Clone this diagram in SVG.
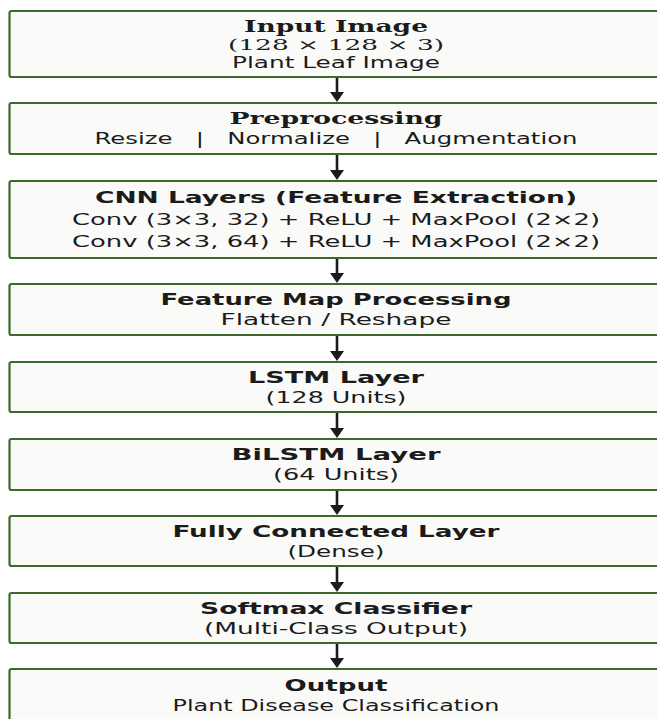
<svg xmlns="http://www.w3.org/2000/svg" width="657" height="719" viewBox="0 0 657 719">
<style>
.box{fill:#fafbf9;stroke:#3b6a2c;stroke-width:2.2}
.t{font-family:"DejaVu Sans","Liberation Sans",sans-serif;font-weight:bold;font-size:16px;fill:#1b1b1b;text-anchor:middle}
.ts{font-family:"DejaVu Serif","Liberation Serif",serif;font-weight:bold;font-size:16px;fill:#1b1b1b;text-anchor:middle}
.b{font-family:"DejaVu Sans","Liberation Sans",sans-serif;font-size:15px;fill:#1b1b1b;text-anchor:middle}
.bs{font-family:"DejaVu Serif","Liberation Serif",serif;font-size:15px;fill:#1b1b1b;text-anchor:middle}
.c{stroke:#1b1b1b;stroke-width:2.6;fill:none}
</style>
<defs>
<marker id="ah" viewBox="0 0 10 14" refX="1" refY="7" markerWidth="10" markerHeight="14" markerUnits="userSpaceOnUse" orient="auto">
<path d="M0,0 L10,7 L0,14 z" fill="#1b1b1b"/>
</marker>
</defs>
<rect width="657" height="719" fill="#ffffff"/>
<g id="connectors">
<line class="c" x1="337" y1="77" x2="337" y2="93" marker-end="url(#ah)"/>
<line class="c" x1="337" y1="154" x2="337" y2="171" marker-end="url(#ah)"/>
<line class="c" x1="337" y1="258" x2="337" y2="274" marker-end="url(#ah)"/>
<line class="c" x1="337" y1="335" x2="337" y2="352" marker-end="url(#ah)"/>
<line class="c" x1="337" y1="412" x2="337" y2="429" marker-end="url(#ah)"/>
<line class="c" x1="337" y1="490" x2="337" y2="506" marker-end="url(#ah)"/>
<line class="c" x1="337" y1="566" x2="337" y2="583" marker-end="url(#ah)"/>
<line class="c" x1="337" y1="643" x2="337" y2="659" marker-end="url(#ah)"/>
</g>
<g id="input">
<rect class="box" x="9.5" y="11" width="670" height="66" rx="2"/>
<text class="ts" x="336" y="32" textLength="184" lengthAdjust="spacingAndGlyphs">Input Image</text>
<text class="bs" x="336" y="50" textLength="216" lengthAdjust="spacingAndGlyphs">(128 × 128 × 3)</text>
<text class="b" x="336" y="68" textLength="208" lengthAdjust="spacingAndGlyphs">Plant Leaf Image</text>
</g>
<g id="preprocessing">
<rect class="box" x="9.5" y="103" width="670" height="51" rx="2"/>
<text class="ts" x="336" y="124" textLength="213" lengthAdjust="spacingAndGlyphs">Preprocessing</text>
<text class="b" x="336" y="144" textLength="483" lengthAdjust="spacingAndGlyphs" xml:space="preserve">Resize   |   Normalize   |   Augmentation</text>
</g>
<g id="cnn">
<rect class="box" x="9.5" y="181" width="670" height="77" rx="2"/>
<text class="t" x="336" y="203" textLength="482" lengthAdjust="spacingAndGlyphs">CNN Layers (Feature Extraction)</text>
<text class="b" x="336" y="225" textLength="528" lengthAdjust="spacingAndGlyphs">Conv (3×3, 32) + ReLU + MaxPool (2×2)</text>
<text class="b" x="336" y="247" textLength="528" lengthAdjust="spacingAndGlyphs">Conv (3×3, 64) + ReLU + MaxPool (2×2)</text>
</g>
<g id="featuremap">
<rect class="box" x="9.5" y="284" width="670" height="51" rx="2"/>
<text class="t" x="336" y="305" textLength="351" lengthAdjust="spacingAndGlyphs">Feature Map Processing</text>
<text class="b" x="336" y="325" textLength="231" lengthAdjust="spacingAndGlyphs">Flatten / Reshape</text>
</g>
<g id="lstm">
<rect class="box" x="9.5" y="362" width="670" height="50" rx="2"/>
<text class="t" x="336" y="383" textLength="176" lengthAdjust="spacingAndGlyphs">LSTM Layer</text>
<text class="b" x="336" y="403" textLength="141" lengthAdjust="spacingAndGlyphs">(128 Units)</text>
</g>
<g id="bilstm">
<rect class="box" x="9.5" y="439" width="670" height="51" rx="2"/>
<text class="t" x="336" y="460" textLength="209" lengthAdjust="spacingAndGlyphs">BiLSTM Layer</text>
<text class="b" x="336" y="480" textLength="126" lengthAdjust="spacingAndGlyphs">(64 Units)</text>
</g>
<g id="dense">
<rect class="box" x="9.5" y="516" width="670" height="50" rx="2"/>
<text class="t" x="336" y="537" textLength="327" lengthAdjust="spacingAndGlyphs">Fully Connected Layer</text>
<text class="b" x="336" y="557" textLength="97" lengthAdjust="spacingAndGlyphs">(Dense)</text>
</g>
<g id="softmax">
<rect class="box" x="9.5" y="593" width="670" height="50" rx="2"/>
<text class="t" x="336" y="614" textLength="272" lengthAdjust="spacingAndGlyphs">Softmax Classifier</text>
<text class="b" x="336" y="634" textLength="264" lengthAdjust="spacingAndGlyphs">(Multi-Class Output)</text>
</g>
<g id="output">
<rect class="box" x="9.5" y="669" width="670" height="70" rx="2"/>
<text class="t" x="336" y="691" textLength="103" lengthAdjust="spacingAndGlyphs">Output</text>
<text class="b" x="336" y="711" textLength="327" lengthAdjust="spacingAndGlyphs">Plant Disease Classification</text>
</g>
</svg>
